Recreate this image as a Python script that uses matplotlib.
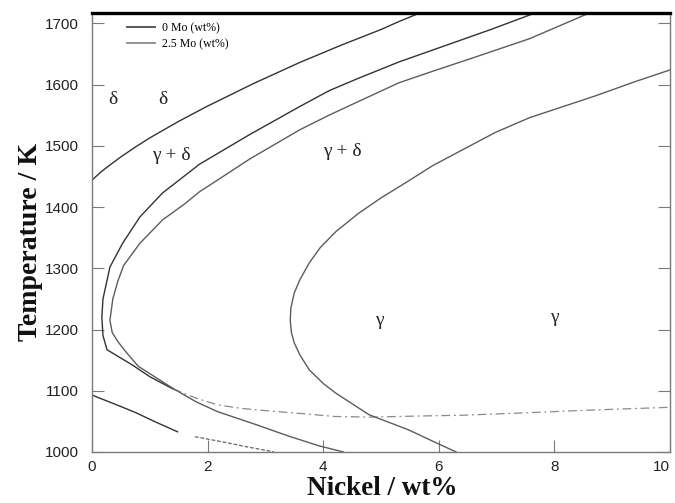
import matplotlib
matplotlib.use("Agg")
import matplotlib.pyplot as plt

# --- phase boundaries, Fe-Cr-Ni(-Mo) section (nickel wt%, temperature K) ---
# 0 Mo: delta / (gamma + delta) boundary
ni_d_0mo = [0.0, 0.15, 0.3, 0.5, 0.75, 1.0, 1.5, 1.98, 2.8, 3.59, 4.3, 5.0, 5.31, 5.75]
t_d_0mo = [1444, 1457, 1468, 1482, 1498, 1513, 1540, 1564, 1602, 1636, 1664, 1690, 1703, 1720]

# 0 Mo: (gamma + delta) / gamma boundary, with the kinked lower branch
ni_g_0mo = [7.75, 6.9, 6.0, 5.31, 4.6, 4.1, 3.59, 2.72, 1.86, 1.22, 0.83, 0.53,
            0.31, 0.19, 0.17, 0.19, 0.26, 0.7, 1.0, 1.4]
t_g_0mo = [1720, 1690, 1660, 1637, 1610, 1590, 1564, 1518, 1470, 1423, 1384, 1341,
           1302, 1250, 1220, 1190, 1167, 1142, 1123, 1103]

# low-temperature continuation of the 0 Mo boundary
ni_low_0mo = [1.4, 1.8, 2.17, 2.6, 3.07, 3.6, 4.2, 4.8, 5.8, 6.4, 7.5, 8.5, 10.0]
t_low_0mo = [1103, 1088, 1077, 1071, 1067, 1063, 1058, 1057, 1059, 1060, 1064, 1068, 1073]

# 2.5 Mo: delta / (gamma + delta) boundary
ni_d_25mo = [8.68, 7.57, 6.6, 5.9, 5.31, 4.6, 4.1, 3.59, 2.72, 2.3, 1.86, 1.6, 1.22,
             0.83, 0.55, 0.45, 0.36, 0.31, 0.35, 0.45, 0.6, 0.8, 1.0, 1.38, 1.8,
             2.17, 2.86, 3.4, 3.93, 4.35]
t_d_25mo = [1720, 1675, 1644, 1622, 1603, 1572, 1550, 1526, 1478, 1452, 1425, 1405, 1379,
            1341, 1305, 1280, 1250, 1215, 1195, 1180, 1162, 1140, 1128, 1105, 1082,
            1066, 1044, 1026, 1010, 1000]

# 2.5 Mo: (gamma + delta) / gamma boundary
ni_g_25mo = [10.0, 9.4, 8.72, 7.57, 6.98, 5.9, 5.43, 5.0, 4.6, 4.22, 3.95, 3.76, 3.6,
             3.5, 3.44, 3.43, 3.45, 3.5, 3.6, 3.76, 4.0, 4.22, 4.79, 5.48, 6.0, 6.3]
t_g_25mo = [1624, 1605, 1582, 1546, 1522, 1468, 1440, 1415, 1389, 1360, 1334, 1309, 1282,
            1260, 1235, 1215, 1195, 1178, 1158, 1134, 1112, 1096, 1061, 1036, 1013, 1000]

# lowest boundary near the axis origin
ni_base = [0.0, 0.4, 0.74, 1.1, 1.48]
t_base = [1093, 1078, 1065, 1049, 1033]
ni_base_tail = [1.78, 2.29, 2.7, 3.05, 3.15]
t_base_tail = [1025, 1016, 1008, 1002, 1000]

# region labels: (text, nickel, temperature)
region_labels = [
    ("\u03b4", 0.36, 1575),
    ("\u03b4", 1.22, 1575),
    ("\u03b3 + \u03b4", 1.38, 1485),
    ("\u03b3 + \u03b4", 4.33, 1490),
    ("\u03b3", 4.97, 1215),
    ("\u03b3", 8.0, 1219),
]

x_ticks = [0, 2, 4, 6, 8, 10]
y_ticks = [1000, 1100, 1200, 1300, 1400, 1500, 1600, 1700]
legend_labels = ["0 Mo (wt%)", "2.5 Mo (wt%)"]

c_0mo = "#333333"
c_25mo = "#5c5c5c"
spine_c = "#7a7a7a"
serif = ["Liberation Serif", "DejaVu Serif"]
sans = ["Liberation Sans", "DejaVu Sans"]

fig = plt.figure(figsize=(6.75, 5.03), dpi=100)
ax = fig.add_axes([0.1363, 0.1014, 0.8563, 0.8728])

ax.plot(ni_d_0mo, t_d_0mo, color=c_0mo, lw=1.0)
ax.plot(ni_g_0mo, t_g_0mo, color=c_0mo, lw=1.0)
ax.plot(ni_low_0mo, t_low_0mo, color="#8a8a8a", lw=0.9, ls=(0, (7, 3, 1.5, 3)))
ax.plot(ni_d_25mo, t_d_25mo, color=c_25mo, lw=1.0)
ax.plot(ni_g_25mo, t_g_25mo, color=c_25mo, lw=1.0)
ax.plot(ni_base, t_base, color=c_0mo, lw=1.0)
ax.plot(ni_base_tail, t_base_tail, color="#666666", lw=0.9, ls=(0, (3, 1.5)))

for txt, xv, yv in region_labels:
    ax.text(xv, yv, txt, fontsize=14, family=serif, color="#222222",
            ha="center", va="center")

ax.set_xlim(0, 10)
ax.set_ylim(1000, 1717)
ax.set_xticks(x_ticks)
ax.set_yticks(y_ticks)
xlabels = ax.set_xticklabels([str(v) for v in x_ticks], family=sans, fontsize=11,
                             color="#222222")
# keep the last label inside the figure edge
xlabels[-1].set_horizontalalignment("right")
ax.set_yticklabels([str(v) for v in y_ticks], family=sans, fontsize=11, color="#222222")
ax.tick_params(axis="x", direction="in", length=8.5, width=0.8, color=spine_c,
               pad=6.0, top=False)
ax.tick_params(axis="y", direction="in", length=8.5, width=0.8, color=spine_c,
               pad=9.4, right=True)

for side in ("left", "right", "bottom"):
    ax.spines[side].set_color(spine_c)
    ax.spines[side].set_linewidth(1.0)
ax.spines["top"].set_color("black")
ax.spines["top"].set_linewidth(2.4)

ax.text(0.503, -0.098, "Nickel / wt%", transform=ax.transAxes, fontsize=19.5,
        fontweight="bold", family=serif, ha="center", va="baseline", color="#111111")
ax.text(-0.095, 0.478, "Temperature / K", transform=ax.transAxes, fontsize=20,
        fontweight="bold", family=serif, ha="center", va="baseline",
        rotation=90, rotation_mode="anchor", color="#111111")

leg_h0 = matplotlib.lines.Line2D([], [], color="#4a4a4a", lw=1.3)
leg_h25 = matplotlib.lines.Line2D([], [], color="#8c8c8c", lw=1.3)
ax.legend([leg_h0, leg_h25], legend_labels, loc="upper left",
          bbox_to_anchor=(0.0606, 0.9795), frameon=False, borderpad=0,
          borderaxespad=0, handlelength=2.4, handletextpad=0.6, labelspacing=0.35,
          prop={"family": serif, "size": 8.5})

fig.savefig("out.png", dpi=100)
